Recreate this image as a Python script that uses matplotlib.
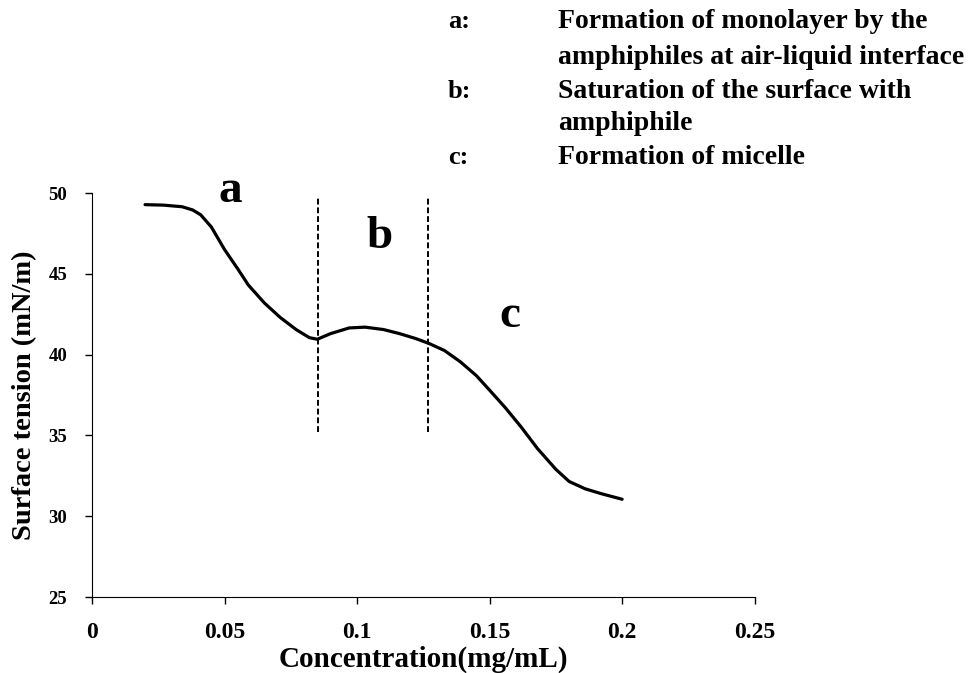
from matplotlib import pyplot as plt

# values
conc = [0.020, 0.027, 0.034, 0.038, 0.041, 0.045, 0.050, 0.055, 0.059, 0.065,
        0.071, 0.077, 0.082, 0.085, 0.090, 0.097, 0.103, 0.110, 0.116, 0.122,
        0.127, 0.133, 0.139, 0.145, 0.150, 0.156, 0.162, 0.168, 0.175, 0.180,
        0.186, 0.192, 0.200]
tension = [49.28, 49.25, 49.15, 48.95, 48.65, 47.9, 46.5, 45.3, 44.3, 43.2,
           42.3, 41.55, 41.05, 40.95, 41.3, 41.65, 41.7, 41.55, 41.3, 41.0,
           40.7, 40.25, 39.55, 38.7, 37.8, 36.7, 35.5, 34.2, 32.9, 32.15,
           31.7, 31.4, 31.05]
boundaries = [0.0852, 0.1267]
region_labels = ['a', 'b', 'c']
region_x = [0.0520, 0.1086, 0.1576]
region_y = [50.1, 47.3, 42.4]
legend_keys = ['a:', '', 'b:', '', 'c:']
legend_texts = ['Formation of monolayer by the',
                'amphiphiles at air-liquid interface',
                'Saturation of the surface with',
                'amphiphile',
                'Formation of micelle']

plt.rcParams['font.family'] = ['Liberation Serif', 'DejaVu Serif']
plt.rcParams['font.weight'] = 'bold'

fig = plt.figure(figsize=(9.75, 6.73), dpi=100)
ax = fig.add_axes([0.0944, 0.1129, 0.6796, 0.6003])

ax.plot(conc, tension, color='black', linewidth=2.3, solid_capstyle='round')
for b in boundaries:
    ax.plot([b, b], [35.2, 49.8], color='black', linewidth=1.4,
            linestyle=(0, (3, 1.5)))

for lab, x, y in zip(region_labels, region_x, region_y):
    ax.text(x, y, lab, fontsize=34, fontweight='bold', ha='center', va='center')

ax.set_xlim(0, 0.25)
ax.set_ylim(25, 50)
ax.set_xticks([0, 0.05, 0.1, 0.15, 0.2, 0.25])
ax.set_xticklabels(['0', '0.05', '0.1', '0.15', '0.2', '0.25'])
ax.set_yticks([25, 30, 35, 40, 45, 50])
ax.spines['top'].set_visible(False)
ax.spines['right'].set_visible(False)
ax.tick_params(direction='out', length=5, width=1, pad=4)
ax.tick_params(axis='x', pad=13, labelsize=17)
ax.tick_params(axis='y', labelsize=13.5, pad=13)
for lbl in ax.get_xticklabels() + ax.get_yticklabels():
    lbl.set_fontweight('bold')

ax.set_xlabel('Concentration(mg/mL)', fontsize=21, fontweight='bold', labelpad=2)
ax.set_ylabel('Surface tension (mN/m)', fontsize=20.5, fontweight='bold', labelpad=8)

line_y = [22, 57, 92, 124, 157]
for key, txt, y in zip(legend_keys, legend_texts, line_y):
    yy = 1 - y / 673
    if key:
        fig.text(448 / 975, yy, key, fontsize=19, fontweight='bold', va='center')
    fig.text(558 / 975, yy, txt, fontsize=20, fontweight='bold', va='center')

plt.savefig('out.png')
